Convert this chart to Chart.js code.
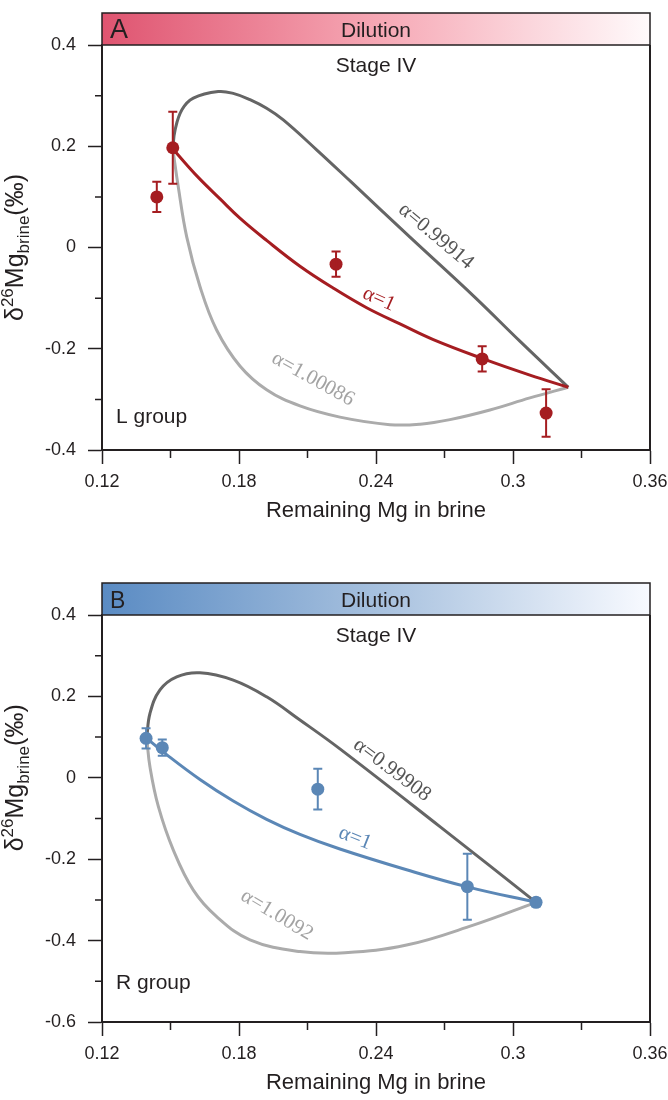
<!DOCTYPE html>
<html>
<head>
<meta charset="utf-8">
<title>Stage IV dilution</title>
<script src="https://cdn.jsdelivr.net/npm/chart.js@4.4.1/dist/chart.umd.min.js"></script>
<style>
  html, body { margin: 0; padding: 0; background: #fff; overflow: hidden; }
  #page { position: relative; width: 668px; height: 1100px; }
  canvas { position: absolute; left: 0; }
  #chart_a { top: 0; }
  #chart_b { top: 570px; }
</style>
</head>
<body>
<div id="page">
  <canvas id="chart_a" width="668" height="550"></canvas>
  <canvas id="chart_b" width="668" height="530"></canvas>
</div>
<script>
// ---- panel A : L group ----
const a_mg = [0.144, 0.151, 0.2225, 0.2865, 0.3145];
const a_delta = [0.100, 0.197, -0.033, -0.220, -0.327];
const a_err = [0.030, 0.071, 0.025, 0.025, 0.047];

// alpha = 1
const a_fit_mg = [0.151, 0.1564, 0.1629, 0.1717, 0.1804, 0.1921, 0.2067, 0.2212, 0.2359, 0.2505, 0.2651, 0.2870, 0.3074, 0.3242];
const a_fit_delta = [0.195, 0.167, 0.135, 0.096, 0.058, 0.014, -0.037, -0.080, -0.119, -0.151, -0.182, -0.220, -0.252, -0.276];
// alpha = 0.99914
const a_low_mg = [0.151, 0.152, 0.155, 0.160, 0.1709, 0.1778, 0.1848, 0.1921, 0.1994, 0.214, 0.229, 0.255, 0.283, 0.303, 0.3242];
const a_low_delta = [0.195, 0.232, 0.272, 0.295, 0.308, 0.304, 0.292, 0.275, 0.252, 0.193, 0.130, 0.020, -0.097, -0.185, -0.276];
// alpha = 1.00086
const a_high_mg = [0.151, 0.1534, 0.1571, 0.1629, 0.1702, 0.1804, 0.1921, 0.2067, 0.2242, 0.2461, 0.2593, 0.2724, 0.2899, 0.3074, 0.3242];
const a_high_delta = [0.195, 0.120, 0.021, -0.077, -0.163, -0.234, -0.281, -0.313, -0.335, -0.350, -0.349, -0.340, -0.321, -0.297, -0.276];

// ---- panel B : R group ----
const b_mg = [0.1393, 0.1464, 0.2145, 0.2800, 0.3101];
const b_delta = [0.097, 0.074, -0.028, -0.2675, -0.306];
const b_err = [0.025, 0.020, 0.050, 0.081, 0.010];

// alpha = 1
const b_fit_mg = [0.1396, 0.1483, 0.1629, 0.1775, 0.1921, 0.2067, 0.2242, 0.2534, 0.2800, 0.3101];
const b_fit_delta = [0.097, 0.057, -0.004, -0.057, -0.102, -0.139, -0.175, -0.226, -0.268, -0.306];
// alpha = 0.99908
const b_low_mg = [0.1396, 0.1410, 0.1454, 0.1527, 0.1629, 0.1775, 0.1921, 0.2067, 0.2242, 0.2680, 0.3101];
const b_low_delta = [0.097, 0.158, 0.216, 0.248, 0.258, 0.240, 0.199, 0.142, 0.071, -0.120, -0.306];
// alpha = 1.0092
const b_high_mg = [0.1396, 0.1410, 0.1447, 0.1512, 0.1600, 0.1702, 0.1848, 0.2067, 0.2264, 0.2534, 0.2826, 0.3101];
const b_high_delta = [0.097, 0.027, -0.071, -0.177, -0.276, -0.341, -0.398, -0.427, -0.430, -0.411, -0.362, -0.306];

const x_ticks_major = [0.12, 0.18, 0.24, 0.3, 0.36];

const sans = '"Liberation Sans", Arial, sans-serif';
const serif = '"Liberation Serif", "Times New Roman", serif';
const ink = '#231f20';

function to_points(xs, ys) {
    return xs.map((v, i) => ({x: v, y: ys[i]}));
}

function is_major_x(v) {
    return x_ticks_major.some(m => Math.abs(m - v) < 1e-6);
}

function is_major_y(v) {
    return Math.abs(Math.round(v * 10)) % 2 === 0;
}

function draw_y_title(ctx, cx, cy) {
    const runs = [
        {t: 'δ', size: 25, dy: 0},
        {t: '26', size: 17, dy: -10},
        {t: 'Mg', size: 25, dy: 0},
        {t: 'brine', size: 17, dy: 6},
        {t: '(‰)', size: 25, dy: 0},
    ];
    ctx.save();
    ctx.translate(cx, cy);
    ctx.rotate(-Math.PI / 2);
    ctx.fillStyle = ink;
    ctx.textBaseline = 'alphabetic';
    ctx.textAlign = 'left';
    let total = 0;
    runs.forEach(r => {
        ctx.font = `${r.size}px ${sans}`;
        r.w = ctx.measureText(r.t).width;
        total += r.w;
    });
    let pos = -total / 2;
    runs.forEach(r => {
        ctx.font = `${r.size}px ${sans}`;
        ctx.fillText(r.t, pos, 8 + r.dy);
        pos += r.w;
    });
    ctx.restore();
}

const decor = {
    id: 'decor',
    afterDatasetsDraw(chart, args, opts) {
        const {ctx, scales: {x, y}} = chart;
        chart.data.datasets.forEach(ds => {
            if (!ds.y_err) return;
            ctx.save();
            ctx.strokeStyle = ds.pointBackgroundColor;
            ctx.lineWidth = 2;
            ds.data.forEach((pt, i) => {
                const px = x.getPixelForValue(pt.x);
                const top = y.getPixelForValue(pt.y + ds.y_err[i]);
                const bot = y.getPixelForValue(pt.y - ds.y_err[i]);
                ctx.beginPath();
                ctx.moveTo(px, top); ctx.lineTo(px, bot);
                ctx.moveTo(px - 4.5, top); ctx.lineTo(px + 4.5, top);
                ctx.moveTo(px - 4.5, bot); ctx.lineTo(px + 4.5, bot);
                ctx.stroke();
            });
            ctx.restore();
        });

        opts.curve_labels.forEach(lb => {
            ctx.save();
            ctx.translate(x.getPixelForValue(lb.x), y.getPixelForValue(lb.y));
            ctx.rotate(lb.angle * Math.PI / 180);
            ctx.font = `21px ${serif}`;
            ctx.fillStyle = lb.color;
            ctx.textAlign = 'center';
            ctx.textBaseline = 'middle';
            ctx.fillText(lb.text, 0, 0);
            ctx.restore();
        });
    },
    afterDraw(chart, args, opts) {
        const {ctx, chartArea: {left, right, top, bottom}, scales: {x, y}} = chart;
        ctx.save();

        // header band
        const grad = ctx.createLinearGradient(left, 0, right, 0);
        opts.band_colors.forEach((c, i) => grad.addColorStop(i / (opts.band_colors.length - 1), c));
        ctx.fillStyle = grad;
        ctx.fillRect(left, top - 32, right - left, 32);
        ctx.strokeStyle = ink;
        ctx.lineWidth = 1.5;
        ctx.strokeRect(left, top - 32, right - left, 32);

        // right frame
        ctx.lineWidth = 2;
        ctx.beginPath();
        ctx.moveTo(right, top);
        ctx.lineTo(right, bottom);
        ctx.stroke();

        // minor ticks
        ctx.lineWidth = 1.5;
        ctx.beginPath();
        x.ticks.forEach(t => {
            if (is_major_x(t.value)) return;
            const px = x.getPixelForValue(t.value);
            ctx.moveTo(px, bottom);
            ctx.lineTo(px, bottom + 8);
        });
        y.ticks.forEach(t => {
            if (is_major_y(t.value)) return;
            const py = y.getPixelForValue(t.value);
            ctx.moveTo(left - 7, py);
            ctx.lineTo(left, py);
        });
        ctx.stroke();

        // texts
        const mid = (left + right) / 2;
        ctx.fillStyle = ink;
        ctx.textBaseline = 'alphabetic';
        ctx.textAlign = 'left';
        ctx.font = `${opts.letter_size}px ${sans}`;
        ctx.fillText(opts.letter, left + 8, top - 7.5);
        ctx.textAlign = 'center';
        ctx.font = `21px ${sans}`;
        ctx.fillText('Dilution', mid, top - 8.5);
        ctx.fillText('Stage IV', mid, top + 27);
        ctx.textAlign = 'left';
        ctx.fillText(opts.group, left + 14, y.getPixelForValue(opts.group_y));
        ctx.textAlign = 'center';
        ctx.font = `22px ${sans}`;
        ctx.fillText('Remaining Mg in brine', mid, bottom + 67);

        draw_y_title(ctx, 15, y.getPixelForValue(0));
        ctx.restore();
    }
};

function make_panel(canvas_id, p) {
    const curve = (data, color) => ({
        data: data,
        showLine: true,
        borderColor: color,
        borderWidth: 3,
        pointRadius: 0,
        tension: 0.4,
    });

    const chart_data = {
        datasets: [
            {
                data: to_points(p.mg, p.delta),
                showLine: false,
                pointRadius: 6.5,
                pointHoverRadius: 6.5,
                pointBackgroundColor: p.color,
                pointBorderColor: p.color,
                pointBorderWidth: 0,
                y_err: p.err,
            },
            curve(to_points(p.fit_mg, p.fit_delta), p.color),
            curve(to_points(p.low_mg, p.low_delta), '#656565'),
            curve(to_points(p.high_mg, p.high_delta), '#ababab'),
        ]
    };

    const chart_config = {
        type: 'scatter',
        data: chart_data,
        plugins: [decor],
        options: {
            responsive: false,
            animation: false,
            events: [],
            layout: {padding: {top: 45, right: 18, left: 0, bottom: 0}},
            plugins: {
                legend: {display: false},
                tooltip: {enabled: false},
                decor: p.decor,
            },
            scales: {
                x: {
                    type: 'linear',
                    min: 0.12,
                    max: 0.36,
                    afterFit: s => {
                        s.height = p.x_axis_height;
                        s.paddingLeft = 0;
                        s.paddingRight = 0;
                    },
                    ticks: {
                        stepSize: 0.03,
                        autoSkip: false,
                        maxRotation: 0,
                        padding: 7,
                        color: ink,
                        font: {family: sans, size: 18},
                        callback: v => is_major_x(v) ? String(Math.round(v * 100) / 100) : '',
                    },
                    grid: {
                        drawOnChartArea: false,
                        tickLength: 14,
                        tickWidth: 1.5,
                        tickColor: c => (c.tick && is_major_x(c.tick.value)) ? ink : 'rgba(0,0,0,0)',
                    },
                    border: {color: ink, width: 2},
                },
                y: {
                    type: 'linear',
                    min: p.y_min,
                    max: 0.4,
                    afterFit: s => {
                        s.width = 102;
                        s.paddingTop = 0;
                        s.paddingBottom = 0;
                    },
                    ticks: {
                        stepSize: 0.1,
                        autoSkip: false,
                        padding: 12,
                        color: ink,
                        font: {family: sans, size: 18},
                        callback: v => is_major_y(v) ? String(Math.round(v * 10) / 10) : '',
                    },
                    grid: {
                        drawOnChartArea: false,
                        tickLength: 14,
                        tickWidth: 1.5,
                        tickColor: c => (c.tick && is_major_y(c.tick.value)) ? ink : 'rgba(0,0,0,0)',
                    },
                    border: {color: ink, width: 2},
                },
            },
        },
    };

    return new Chart(document.getElementById(canvas_id), chart_config);
}

make_panel('chart_a', {
    mg: a_mg, delta: a_delta, err: a_err,
    fit_mg: a_fit_mg, fit_delta: a_fit_delta,
    low_mg: a_low_mg, low_delta: a_low_delta,
    high_mg: a_high_mg, high_delta: a_high_delta,
    color: '#a51d21',
    y_min: -0.4,
    x_axis_height: 100,
    decor: {
        letter: 'A', letter_size: 27,
        group: 'L group', group_y: -0.347,
        band_colors: ['#df5470', '#f6a7b4', '#fffafb'],
        curve_labels: [
            {text: 'α=0.99914', x: 0.2663, y: 0.022, angle: 40, color: '#555555'},
            {text: 'α=1', x: 0.2413, y: -0.102, angle: 24, color: '#a51d21'},
            {text: 'α=1.00086', x: 0.2124, y: -0.260, angle: 29, color: '#a3a3a3'},
        ],
    },
});

make_panel('chart_b', {
    mg: b_mg, delta: b_delta, err: b_err,
    fit_mg: b_fit_mg, fit_delta: b_fit_delta,
    low_mg: b_low_mg, low_delta: b_low_delta,
    high_mg: b_high_mg, high_delta: b_high_delta,
    color: '#5b87b6',
    y_min: -0.6,
    x_axis_height: 78,
    decor: {
        letter: 'B', letter_size: 23,
        group: 'R group', group_y: -0.519,
        band_colors: ['#5a8bc3', '#a6c0de', '#f8faff'],
        curve_labels: [
            {text: 'α=0.99908', x: 0.247, y: 0.019, angle: 37, color: '#555555'},
            {text: 'α=1', x: 0.2308, y: -0.148, angle: 22, color: '#5b87b6'},
            {text: 'α=1.0092', x: 0.1966, y: -0.337, angle: 31, color: '#a3a3a3'},
        ],
    },
});
</script>
</body>
</html>
